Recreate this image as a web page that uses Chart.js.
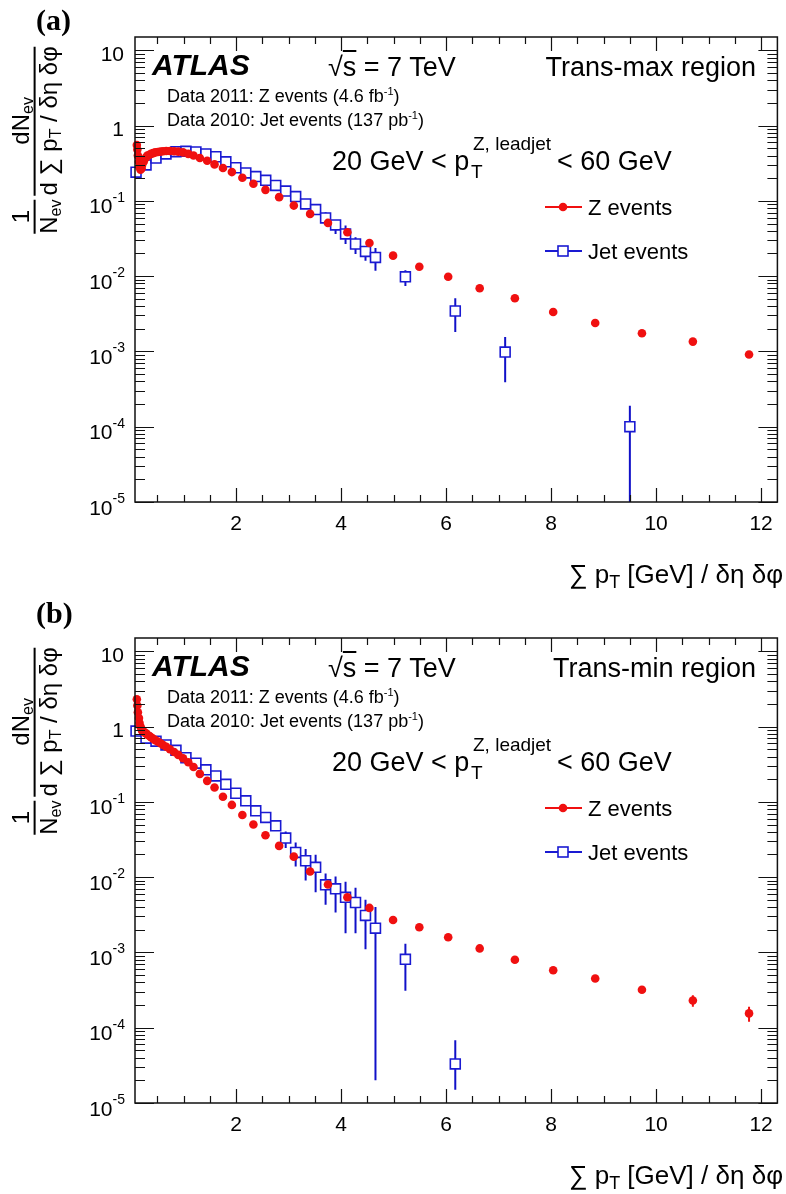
<!DOCTYPE html>
<html>
<head>
<meta charset="utf-8">
<script src="https://cdn.jsdelivr.net/npm/chart.js@4.4.0/dist/chart.umd.min.js"></script>
<style>
html,body{margin:0;padding:0;background:#fff;}
#wrap{position:relative;width:786px;height:1194px;overflow:hidden;font-family:"Liberation Sans",Arial,Helvetica,sans-serif;color:#000;}
canvas{position:absolute;left:0;}
.t{position:absolute;white-space:nowrap;line-height:1;}
.panel{font-family:"Liberation Serif","Times New Roman",serif;font-weight:bold;font-size:30px;}
.atlas{font-weight:bold;font-style:italic;font-size:30px;}
.big{font-size:27px;}
.small{font-size:18px;}
.small sup{font-size:11px;vertical-align:0.6em;}
.scr{font-size:19px;}
.ov{text-decoration:overline;}
.xt{font-size:26px;}
.xt sub{font-size:18px;vertical-align:-0.3em;line-height:0;}
.ytitle{position:absolute;white-space:nowrap;font-size:24px;line-height:1.1;transform:translate(-50%,-50%) rotate(-90deg);display:flex;align-items:center;}
.frac{display:inline-flex;flex-direction:column;align-items:stretch;text-align:center;margin:0 2px;}
.frac .den{border-top:2px solid #000;}
.ytitle sub{font-size:16px;vertical-align:-0.3em;line-height:0;}
</style>
</head>
<body>
<div id="wrap">
<canvas id="ca" width="786" height="597" style="top:0px"></canvas>
<canvas id="cb" width="786" height="597" style="top:597px"></canvas>

<!-- panel (a) text -->
<div class="t panel" style="left:36px;top:5px">(a)</div>
<div class="ytitle" style="left:35px;top:140px">
  <span class="frac"><span class="num">1</span><span class="den">N<sub>ev</sub></span></span>
  <span class="frac"><span class="num">dN<sub>ev</sub></span><span class="den">d ∑ p<sub>T</sub> / δη δφ</span></span>
</div>
<div class="t atlas" style="left:152px;top:50px">ATLAS</div>
<div class="t big" style="left:328px;top:54px">√<span class="ov">s</span> = 7 TeV</div>
<div class="t big" style="right:30px;top:54px">Trans-max region</div>
<div class="t small" style="left:167px;top:86px">Data 2011: Z events (4.6 fb<sup>-1</sup>)</div>
<div class="t small" style="left:167px;top:110px">Data 2010: Jet events (137 pb<sup>-1</sup>)</div>
<div class="t big" style="left:332px;top:148px">20 GeV &lt; p</div>
<div class="t scr" style="left:473px;top:134px">Z, leadjet</div>
<div class="t scr" style="left:471px;top:162px">T</div>
<div class="t big" style="left:557px;top:148px">&lt; 60 GeV</div>
<div class="t xt" style="right:3px;top:561px">∑ p<sub>T</sub> [GeV] / δη δφ</div>

<!-- panel (b) text -->
<div class="t panel" style="left:36px;top:598px">(b)</div>
<div class="ytitle" style="left:35px;top:741px">
  <span class="frac"><span class="num">1</span><span class="den">N<sub>ev</sub></span></span>
  <span class="frac"><span class="num">dN<sub>ev</sub></span><span class="den">d ∑ p<sub>T</sub> / δη δφ</span></span>
</div>
<div class="t atlas" style="left:152px;top:651px">ATLAS</div>
<div class="t big" style="left:328px;top:655px">√<span class="ov">s</span> = 7 TeV</div>
<div class="t big" style="right:30px;top:655px">Trans-min region</div>
<div class="t small" style="left:167px;top:687px">Data 2011: Z events (4.6 fb<sup>-1</sup>)</div>
<div class="t small" style="left:167px;top:711px">Data 2010: Jet events (137 pb<sup>-1</sup>)</div>
<div class="t big" style="left:332px;top:749px">20 GeV &lt; p</div>
<div class="t scr" style="left:473px;top:735px">Z, leadjet</div>
<div class="t scr" style="left:471px;top:763px">T</div>
<div class="t big" style="left:557px;top:749px">&lt; 60 GeV</div>
<div class="t xt" style="right:3px;top:1162px">∑ p<sub>T</sub> [GeV] / δη δφ</div>
</div>

<script>
// ---------------- data ----------------
// x-axis tick labels
const xTickLabels = [2, 4, 6, 8, 10, 12];
// y-axis decade exponents
const yTickExponents = [-5, -4, -3, -2, -1, 0, 1];

// Z events: bin centres (same binning in both panels)
const zX = [0.11,0.12,0.13,0.15,0.16,0.18,0.20,0.21,0.24,0.26,
            0.29,0.31,0.35,0.38,0.42,0.46,0.51,0.56,0.61,0.67,
            0.74,0.82,0.90,0.99,1.09,1.19,1.31,1.45,1.59,1.75,
            1.92,2.12,2.33,2.56,2.82,3.10,3.41,3.75,4.12,4.54,
            4.99,5.49,6.04,6.64,7.31,8.04,8.84,9.73,10.70,11.77];

// (a) Trans-max, Z events
const zMaxY = [0.55,0.48,0.40,0.33,0.28,0.26,0.27,0.30,0.33,0.36,
               0.38,0.40,0.41,0.42,0.43,0.44,0.445,0.45,0.455,0.46,
               0.46,0.455,0.45,0.44,0.42,0.40,0.37,0.34,0.305,0.273,
               0.241,0.203,0.169,0.140,0.112,0.0865,0.0671,0.0509,0.0383,0.0275,
               0.0187,0.0133,0.0098,0.0069,0.00509,0.00334,0.00238,0.00174,0.00135,0.00091];

// (b) Trans-min, Z events
const zMinY = [2.3,1.9,1.55,1.3,1.12,1.0,0.93,0.88,0.85,0.83,
               0.81,0.78,0.75,0.72,0.69,0.66,0.63,0.60,0.57,0.54,
               0.50,0.46,0.42,0.38,0.335,0.29,0.235,0.19,0.155,0.117,
               0.091,0.067,0.050,0.036,0.026,0.0187,0.0119,0.0080,0.0054,0.0039,
               0.0027,0.00216,0.00159,0.00113,0.00080,0.00058,0.00045,0.00032,0.00023,0.000155];
const zMinErr = [0,0,0,0,0,0,0,0,0,0, 0,0,0,0,0,0,0,0,0,0, 0,0,0,0,0,0,0,0,0,0,
                 0,0,0,0,0,0,0,0,0,0, 0,0,0,0,0,0,0,0.00003,0.00004,0.000035];

// Jet events: bin centres
const jetMaxX = [0.095,0.285,0.475,0.665,0.855,1.045,1.235,1.425,1.615,1.805,
                 1.995,2.185,2.375,2.565,2.755,2.945,3.135,3.325,3.515,3.705,
                 3.895,4.085,4.275,4.465,4.655,5.225,6.175,7.125,9.5];
const jetMaxY = [0.24,0.30,0.37,0.42,0.45,0.455,0.445,0.42,0.385,0.33,
                 0.275,0.235,0.21,0.187,0.16,0.135,0.114,0.091,0.0766,0.0593,
                 0.0479,0.0363,0.0267,0.0213,0.0177,0.0098,0.00344,0.00098,0.0001];
const jetMaxLo = [0.235,0.295,0.365,0.415,0.445,0.45,0.44,0.415,0.38,0.325,
                  0.27,0.23,0.205,0.182,0.155,0.13,0.109,0.086,0.069,0.052,
                  0.0363,0.0267,0.0197,0.016,0.0118,0.0074,0.00181,0.00039,0.0000001];
const jetMaxHi = [0.245,0.305,0.375,0.425,0.455,0.46,0.45,0.425,0.39,0.335,
                  0.28,0.24,0.215,0.192,0.165,0.14,0.119,0.096,0.085,0.0706,
                  0.0546,0.0469,0.0328,0.0241,0.0236,0.012,0.00509,0.00155,0.00019];

const jetMinX = [0.095,0.285,0.475,0.665,0.855,1.045,1.235,1.425,1.615,1.805,
                 1.995,2.185,2.375,2.565,2.755,2.945,3.135,3.325,3.515,3.705,
                 3.895,4.085,4.275,4.465,4.655,5.225,6.175];
const jetMinY = [0.87,0.70,0.64,0.57,0.484,0.386,0.326,0.266,0.221,0.171,
                 0.130,0.103,0.076,0.062,0.048,0.033,0.0213,0.0165,0.0135,0.0079,
                 0.0070,0.0054,0.0046,0.0031,0.0021,0.00081,0.000033];
const jetMinLo = [0.84,0.68,0.62,0.55,0.47,0.375,0.316,0.257,0.213,0.164,
                  0.124,0.098,0.072,0.058,0.044,0.0244,0.0138,0.009,0.0063,0.0043,
                  0.0034,0.0018,0.0018,0.0011,0.00002,0.00031,0.000015];
const jetMinHi = [0.90,0.72,0.66,0.59,0.50,0.397,0.336,0.275,0.229,0.178,
                  0.136,0.108,0.080,0.066,0.052,0.0405,0.0289,0.0236,0.0199,0.0112,
                  0.0102,0.0087,0.0072,0.0050,0.0040,0.0013,0.000068];

const legendLabels = ['Z events', 'Jet events'];

// ---------------- style ----------------
const RED = '#f01010';
const BLUE = '#1a1ad2';
const BAR_BLUE = '#1010c8';
const FONT = '"Liberation Sans", Arial, sans-serif';

function pts(xs, ys) { return xs.map((x, i) => ({x: x, y: ys[i]})); }

const rootAxes = {
  id: 'rootAxes',
  beforeDatasetsDraw(chart) {
    const {ctx, chartArea: a, scales: {x, y}} = chart;
    ctx.save();
    ctx.beginPath();
    ctx.rect(a.left, a.top, a.right - a.left, a.bottom - a.top);
    ctx.clip();
    chart.data.datasets.forEach((ds) => {
      if (!ds.errLo) return;
      ctx.strokeStyle = ds.errColor;
      ctx.lineWidth = 2;
      ctx.beginPath();
      ds.data.forEach((p, j) => {
        const lo = ds.errLo[j], hi = ds.errHi[j];
        if (!(hi > lo)) return;
        const px = x.getPixelForValue(p.x);
        ctx.moveTo(px, y.getPixelForValue(Math.max(lo, 1e-12)));
        ctx.lineTo(px, y.getPixelForValue(hi));
      });
      ctx.stroke();
    });
    ctx.restore();
  },
  afterDraw(chart, args, opts) {
    const {ctx, chartArea: a, scales: {x, y}} = chart;
    ctx.save();
    // frame
    ctx.strokeStyle = '#111';
    ctx.lineWidth = 1.5;
    ctx.strokeRect(a.left, a.top, a.right - a.left, a.bottom - a.top);
    // ticks
    ctx.lineWidth = 1.2;
    ctx.beginPath();
    for (let k = Math.ceil(x.min * 2); k <= Math.floor(x.max * 2); k++) {
      const v = k / 2;
      const px = Math.round(x.getPixelForValue(v)) + 0.5;
      const len = (k % 4 === 0) ? 14 : 7;
      ctx.moveTo(px, a.bottom); ctx.lineTo(px, a.bottom - len);
      ctx.moveTo(px, a.top); ctx.lineTo(px, a.top + len);
    }
    yTickExponents.forEach((e) => {
      for (let m = 1; m <= 9; m++) {
        const v = m * Math.pow(10, e);
        if (v < y.min * 0.999 || v > y.max) continue;
        const py = Math.round(y.getPixelForValue(v)) + 0.5;
        const len = (m === 1) ? 19 : 10;
        ctx.moveTo(a.left, py); ctx.lineTo(a.left + len, py);
        ctx.moveTo(a.right, py); ctx.lineTo(a.right - len, py);
      }
    });
    ctx.stroke();
    // x labels
    ctx.fillStyle = '#000';
    ctx.font = '21px ' + FONT;
    ctx.textAlign = 'center';
    ctx.textBaseline = 'alphabetic';
    xTickLabels.forEach((v) => {
      ctx.fillText(String(v), x.getPixelForValue(v), a.bottom + 20 + 0.358 * 21);
    });
    // y labels
    const R = 125;
    yTickExponents.forEach((e) => {
      const py = y.getPixelForValue(Math.pow(10, e));
      ctx.textAlign = 'right';
      if (e === 0 || e === 1) {
        ctx.font = '21px ' + FONT;
        ctx.fillText(e === 0 ? '1' : '10', R - 1, py + 3 + 0.358 * 21);
      } else {
        const sup = '-' + String(-e);
        ctx.font = '14px ' + FONT;
        const ws = ctx.measureText(sup).width;
        ctx.fillText(sup, R, py - 4 + 0.358 * 14);
        ctx.font = '21px ' + FONT;
        ctx.fillText('10', R - ws, py + 5 + 0.358 * 21);
      }
    });
    // legend
    const L = opts.legend;
    ctx.textAlign = 'left';
    ctx.font = '22px ' + FONT;
    L.forEach((it) => {
      ctx.strokeStyle = it.color;
      ctx.lineWidth = 2;
      ctx.beginPath();
      ctx.moveTo(545, it.y); ctx.lineTo(582, it.y);
      ctx.stroke();
      if (it.style === 'circle') {
        ctx.fillStyle = it.color;
        ctx.beginPath(); ctx.arc(563, it.y, 4.3, 0, Math.PI * 2); ctx.fill();
      } else {
        ctx.fillStyle = '#fff';
        ctx.fillRect(558, it.y - 5, 10, 10);
        ctx.lineWidth = 1.6;
        ctx.strokeRect(558, it.y - 5, 10, 10);
      }
      ctx.fillStyle = '#000';
      ctx.fillText(it.label, 588, it.y + 0.358 * 22);
    });
    ctx.restore();
  }
};

function makeChart(id, zY, zErr, jX, jY, jLo, jHi, padTop, padBottom, legY) {
  const zLo = zErr ? zY.map((v, i) => v - zErr[i]) : null;
  const zHi = zErr ? zY.map((v, i) => v + zErr[i]) : null;
  return new Chart(document.getElementById(id), {
    type: 'scatter',
    data: {
      datasets: [
        {
          label: legendLabels[1],
          data: pts(jX, jY),
          pointStyle: 'rect',
          pointRadius: 7,
          pointBorderWidth: 1.6,
          pointBorderColor: BLUE,
          pointBackgroundColor: '#fff',
          showLine: false,
          clip: false,
          errLo: jLo, errHi: jHi, errColor: BAR_BLUE,
          order: 2
        },
        {
          label: legendLabels[0],
          data: pts(zX, zY),
          pointStyle: 'circle',
          pointRadius: 4.3,
          pointBorderWidth: 0,
          pointBackgroundColor: RED,
          pointBorderColor: RED,
          showLine: false,
          clip: false,
          errLo: zLo, errHi: zHi, errColor: RED,
          order: 1
        }
      ]
    },
    options: {
      responsive: false,
      animation: false,
      devicePixelRatio: 1,
      events: [],
      layout: {padding: {left: 135, right: 3, top: padTop, bottom: padBottom}},
      scales: {
        x: {type: 'linear', min: 0.075, max: 12.31, display: false},
        y: {type: 'logarithmic', min: 1e-5, max: 15, display: false}
      },
      plugins: {
        legend: {display: false},
        tooltip: {enabled: false},
        rootAxes: {
          legend: [
            {label: legendLabels[0], color: RED, style: 'circle', y: legY[0]},
            {label: legendLabels[1], color: BLUE, style: 'rect', y: legY[1]}
          ]
        }
      }
    },
    plugins: [rootAxes]
  });
}

makeChart('ca', zMaxY, null, jetMaxX, jetMaxY, jetMaxLo, jetMaxHi, 37, 95, [207, 251]);
makeChart('cb', zMinY, zMinErr, jetMinX, jetMinY, jetMinLo, jetMinHi, 41, 91, [211, 255]);
</script>
</body>
</html>
